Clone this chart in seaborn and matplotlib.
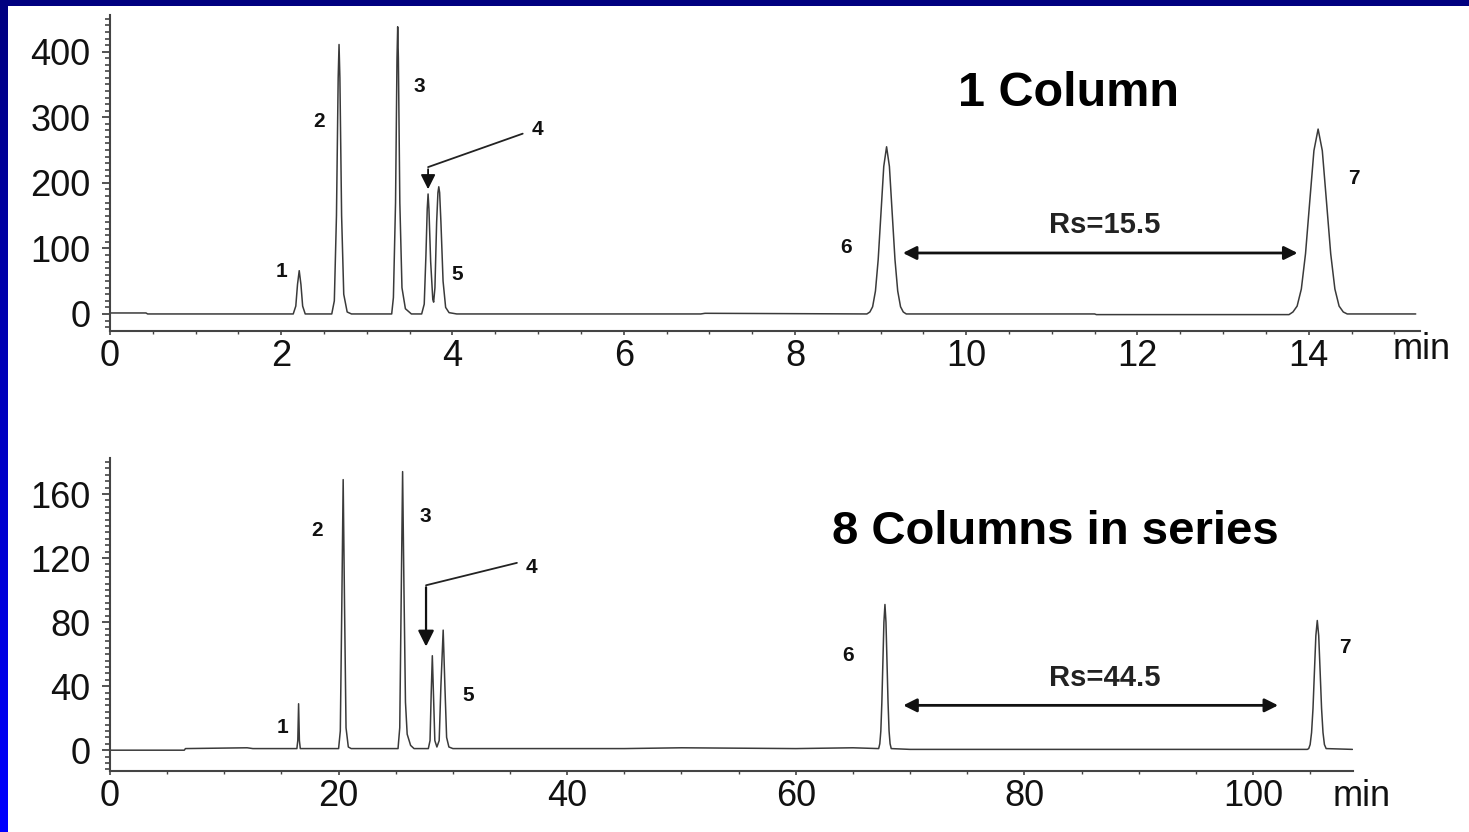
import numpy as np
import pandas as pd
import matplotlib
matplotlib.use("Agg")
import matplotlib.pyplot as plt
from matplotlib.patches import Rectangle
from matplotlib.ticker import MultipleLocator, FixedLocator
import seaborn as sns

# ---------------- data ----------------
# 1 column chromatogram: (time in min, signal)
top_trace = [
    (0.00, 1.5), (0.42, 1.5), (0.44, 0), (2.14, 0), (2.17, 12), (2.19, 45), (2.21, 66),
    (2.23, 45), (2.25, 12), (2.28, 0), (2.59, 0), (2.62, 20), (2.645, 150), (2.665, 360),
    (2.675, 411), (2.685, 360), (2.705, 150), (2.73, 30), (2.77, 3), (2.82, 0), (3.29, 0),
    (3.31, 25), (3.335, 170), (3.352, 390), (3.36, 438), (3.368, 390), (3.385, 170),
    (3.41, 40), (3.45, 8), (3.52, 0), (3.64, 0), (3.67, 15), (3.69, 90), (3.705, 160),
    (3.715, 183), (3.725, 160), (3.745, 80), (3.77, 22), (3.78, 18), (3.795, 40),
    (3.815, 140), (3.83, 185), (3.84, 194), (3.85, 185), (3.865, 140), (3.89, 50),
    (3.92, 10), (3.96, 2), (4.05, 0), (6.90, 0), (6.95, 1), (8.84, 0), (8.875, 3),
    (8.907, 11), (8.94, 35), (8.972, 83), (9.005, 155), (9.037, 225), (9.07, 255),
    (9.103, 225), (9.135, 155), (9.168, 83), (9.20, 35), (9.233, 11), (9.265, 3),
    (9.30, 0), (11.50, 0), (11.52, -1), (13.77, -1), (13.816, 3), (13.865, 12),
    (13.914, 38), (13.963, 92), (14.012, 171), (14.061, 249), (14.11, 282),
    (14.159, 249), (14.208, 171), (14.257, 92), (14.306, 38), (14.355, 12),
    (14.404, 3), (14.45, 0), (15.25, 0),
]
# 8 columns in series chromatogram: (time in min, signal)
bottom_trace = [
    (0.0, 0), (6.5, 0), (6.6, 1), (12.0, 1.5), (12.5, 1), (16.35, 1), (16.43, 6),
    (16.5, 29), (16.57, 6), (16.65, 1), (20.0, 1), (20.15, 12), (20.28, 90), (20.4, 169),
    (20.52, 90), (20.65, 14), (20.85, 2), (21.1, 1), (25.2, 1), (25.35, 14), (25.5, 110),
    (25.6, 174), (25.72, 100), (25.85, 30), (26.0, 10), (26.3, 3), (26.6, 1), (27.85, 1),
    (28.0, 6), (28.1, 35), (28.2, 59), (28.3, 35), (28.42, 6), (28.6, 2), (28.8, 6),
    (28.95, 40), (29.15, 75), (29.3, 40), (29.45, 8), (29.65, 2), (30.0, 1), (45.0, 1),
    (50.0, 1.5), (60.0, 1), (65.0, 1.5), (67.25, 1), (67.35, 4), (67.44, 12), (67.53, 30),
    (67.62, 55), (67.71, 80), (67.8, 91), (67.89, 80), (67.98, 55), (68.07, 30),
    (68.16, 12), (68.25, 4), (68.35, 1), (70.0, 0.5), (90.0, 0.5), (104.75, 0.5),
    (104.875, 1), (105.0, 3.5), (105.125, 11), (105.25, 26), (105.375, 49), (105.5, 71.5),
    (105.625, 81), (105.75, 71.5), (105.875, 49), (106.0, 26), (106.125, 11),
    (106.25, 3.5), (106.4, 1), (108.7, 0.5),
]
peak_names = ["1", "2", "3", "4", "5", "6", "7"]
top_xticks = [0, 2, 4, 6, 8, 10, 12, 14]
top_yticks = [0, 100, 200, 300, 400]
bottom_xticks = [0, 20, 40, 60, 80, 100]
bottom_yticks = [0, 40, 80, 120, 160]
titles = ["1 Column", "8 Columns in series"]
rs_texts = ["Rs=15.5", "Rs=44.5"]
unit_label = "min"

# ---------------- layout ----------------
W, H = 1469, 832
sns.set_theme(style="white")
plt.rcParams["font.family"] = ["Liberation Sans", "DejaVu Sans"]

fig = plt.figure(figsize=(W / 100, H / 100), dpi=100)

# background: blue gradient frame with white page
bg = fig.add_axes([0, 0, 1, 1], zorder=-10)
grad = np.linspace(0.5, 1.0, 256)
img = np.zeros((256, 1, 3))
img[:, 0, 2] = grad
bg.imshow(img, aspect="auto", extent=[0, W, H, 0])
bg.add_patch(Rectangle((8, 6), W - 8, H - 6, facecolor="white", edgecolor="none"))
bg.set_xlim(0, W)
bg.set_ylim(H, 0)
bg.axis("off")


def frac_box(x0, y0, x1, y1):
    return [x0 / W, 1 - y1 / H, (x1 - x0) / W, (y1 - y0) / H]


ax_top = fig.add_axes(frac_box(110, 15, 1420, 331))
ax_bot = fig.add_axes(frac_box(110, 458, 1353, 771))

line_color = "#3a3a3a"
axis_color = "#444444"
label_size = 26


def style_axis(ax, xlim, ylim, xticks, yticks, xminor, yminor, ylo_minor):
    ax.set_facecolor("none")
    ax.set_xlim(*xlim)
    ax.set_ylim(*ylim)
    for s in ["top", "right"]:
        ax.spines[s].set_visible(False)
    for s in ["left", "bottom"]:
        ax.spines[s].set_color(axis_color)
        ax.spines[s].set_linewidth(1.5)
    ax.set_xticks(xticks)
    ax.set_xticklabels([str(v) for v in xticks])
    ax.set_yticks(yticks)
    ax.set_yticklabels([str(v) for v in yticks])
    ax.xaxis.set_minor_locator(MultipleLocator(xminor))
    ax.yaxis.set_minor_locator(FixedLocator(np.arange(ylo_minor, ylim[1] + 0.01, yminor)))
    ax.tick_params(axis="both", which="both", colors=axis_color, labelcolor="#111111",
                   labelsize=label_size, direction="out", left=True, bottom=True,
                   top=False, right=False)
    ax.tick_params(axis="y", which="major", length=6, width=1.3, pad=8)
    ax.tick_params(axis="y", which="minor", length=3.5, width=1.2)
    ax.tick_params(axis="x", which="major", length=3, width=1.2, pad=3)
    ax.tick_params(axis="x", which="minor", length=2.5, width=1.0)
    ax.grid(False)


style_axis(ax_top, (0, 15.30), (-26, 456), top_xticks, top_yticks, 0.5, 10, -20)
style_axis(ax_bot, (0, 108.75), (-13, 182.5), bottom_xticks, bottom_yticks, 5, 4, -12)

top_df = pd.DataFrame(top_trace, columns=["time", "signal"])
bot_df = pd.DataFrame(bottom_trace, columns=["time", "signal"])
sns.lineplot(data=top_df, x="time", y="signal", ax=ax_top, color=line_color,
             linewidth=1.1, estimator=None, sort=False)
sns.lineplot(data=bot_df, x="time", y="signal", ax=ax_bot, color=line_color,
             linewidth=1.1, estimator=None, sort=False)
for ax in (ax_top, ax_bot):
    ax.set_xlabel("")
    ax.set_ylabel("")

# peak number labels (data coordinates)
top_label_xy = [(2.00, 64), (2.44, 293), (3.61, 347), (4.99, 281), (4.05, 60), (8.60, 102), (14.53, 206)]
bot_label_xy = [(15.05, 14), (18.1, 137), (27.6, 146), (36.9, 114), (31.3, 34), (64.6, 59), (108.0, 64)]
for ax, pos in ((ax_top, top_label_xy), (ax_bot, bot_label_xy)):
    for name, (x, y) in zip(peak_names, pos):
        ax.text(x, y, name, fontsize=15, fontweight="bold", ha="center", va="center",
                color="#111111")

# leader arrows for peak 4
ax_top.plot([4.82, 3.715], [275, 224], color="#222222", lw=1.3)
ax_top.annotate("", xy=(3.715, 186), xytext=(3.715, 225),
                arrowprops=dict(arrowstyle="-|>", color="#111111", lw=1.3, mutation_scale=22))
ax_bot.plot([35.6, 27.65], [117, 103], color="#222222", lw=1.3)
ax_bot.annotate("", xy=(27.65, 63), xytext=(27.65, 103.5),
                arrowprops=dict(arrowstyle="-|>", color="#111111", lw=1.6, mutation_scale=24))

# resolution arrows and texts
ax_top.annotate("", xy=(9.26, 93), xytext=(13.87, 93),
                arrowprops=dict(arrowstyle="<|-|>", color="#111111", lw=2.0, mutation_scale=20,
                                shrinkA=0, shrinkB=0))
ax_top.text(11.62, 136, rs_texts[0], fontsize=21, fontweight="bold", ha="center", va="center",
            color="#222222")
ax_bot.annotate("", xy=(69.4, 28), xytext=(102.2, 28),
                arrowprops=dict(arrowstyle="<|-|>", color="#111111", lw=2.0, mutation_scale=20,
                                shrinkA=0, shrinkB=0))
ax_bot.text(87.05, 45, rs_texts[1], fontsize=21, fontweight="bold", ha="center", va="center",
            color="#222222")

# panel titles
ax_top.text(11.19, 336, titles[0], fontsize=35, fontweight="bold", ha="center", va="center",
            color="black")
ax_bot.text(82.7, 136, titles[1], fontsize=34, fontweight="bold", ha="center", va="center",
            color="black")

# unit labels
fig.text(1422 / W, 1 - 350 / H, unit_label, fontsize=label_size, ha="center", va="center",
         color="#111111")
fig.text(1362 / W, 1 - 797 / H, unit_label, fontsize=label_size, ha="center", va="center",
         color="#111111")

fig.savefig("out.png", dpi=100)
